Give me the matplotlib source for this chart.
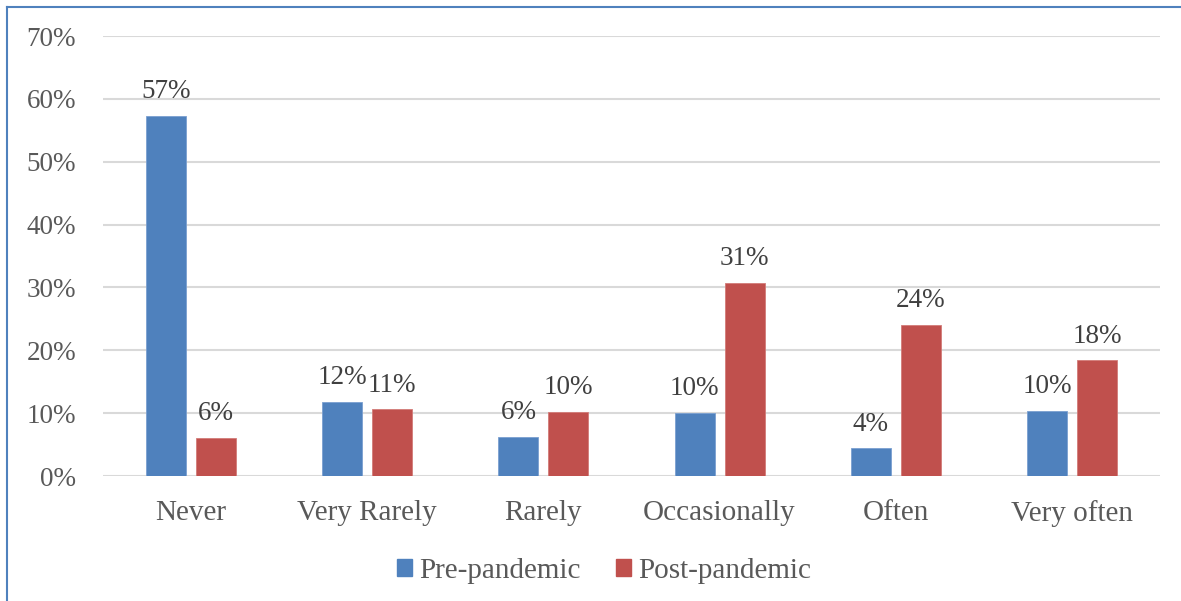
import numpy as np
import matplotlib
matplotlib.use("Agg")
import matplotlib.pyplot as plt
from matplotlib.lines import Line2D
from matplotlib.patches import Patch

categories = ["Never", "Very Rarely", "Rarely", "Occasionally", "Often", "Very often"]
pre_pandemic = [57.3, 11.8, 6.2, 10.0, 4.4, 10.3]
post_pandemic = [6.1, 10.6, 10.2, 30.7, 24.0, 18.4]
pre_labels = ["57%", "12%", "6%", "10%", "4%", "10%"]
post_labels = ["6%", "11%", "10%", "31%", "24%", "18%"]
y_ticks = [0, 10, 20, 30, 40, 50, 60, 70]

blue = "#4f81bd"
red = "#c0504d"
txt = "#595959"

plt.rcParams["font.family"] = ["Liberation Serif", "DejaVu Serif"]

fig = plt.figure(figsize=(11.81, 6.01), dpi=100)
ax = fig.add_axes([103 / 1181, 1 - 476 / 601, 1057 / 1181, 440 / 601])

x = np.arange(len(categories))
w = 0.227
off = 0.142
b1 = ax.bar(x - off, pre_pandemic, w, color=blue, edgecolor="#7a9fd0", linewidth=0.6, zorder=3)
b2 = ax.bar(x + off, post_pandemic, w, color=red, edgecolor="#d27b78", linewidth=0.6, zorder=3)

for bars, labs in ((b1, pre_labels), (b2, post_labels)):
    for b, lab in zip(bars, labs):
        ax.annotate(lab, (b.get_x() + b.get_width() / 2, b.get_height()),
                    xytext=(0, 8.5), textcoords="offset points",
                    ha="center", va="bottom", fontsize=19.5, color="#404040")

ax.set_xlim(-0.5, 5.5)
ax.set_ylim(0, 70)
ax.set_yticks(y_ticks)
ax.set_yticklabels([f"{v}%" for v in y_ticks], fontsize=19.5, color=txt)
ax.set_xticks(x)
ax.set_xticklabels(categories, fontsize=21, color=txt)
ax.tick_params(axis="both", length=0)
ax.tick_params(axis="y", pad=19.5)
ax.tick_params(axis="x", pad=17)
ax.yaxis.grid(True, color="#d9d9d9", linewidth=1.5, zorder=0)
for s in ax.spines.values():
    s.set_visible(False)

handles = [Patch(color=blue, label="Pre-pandemic"), Patch(color=red, label="Post-pandemic")]
fig.legend(handles=handles, loc="center", bbox_to_anchor=(604 / 1181, 1 - 571 / 601),
           ncol=2, frameon=False, fontsize=21, handlelength=0.52, handleheight=0.52,
           handletextpad=0.25, columnspacing=1.2, labelcolor=txt)

# frame lines of the box around the chart
fig.add_artist(Line2D([7 / 1181, 1], [1 - 7 / 601, 1 - 7 / 601], transform=fig.transFigure,
                      color=blue, linewidth=1.5))
fig.add_artist(Line2D([7 / 1181, 7 / 1181], [0, 1 - 7 / 601], transform=fig.transFigure,
                      color=blue, linewidth=1.5))

fig.savefig("out.png", dpi=100)
